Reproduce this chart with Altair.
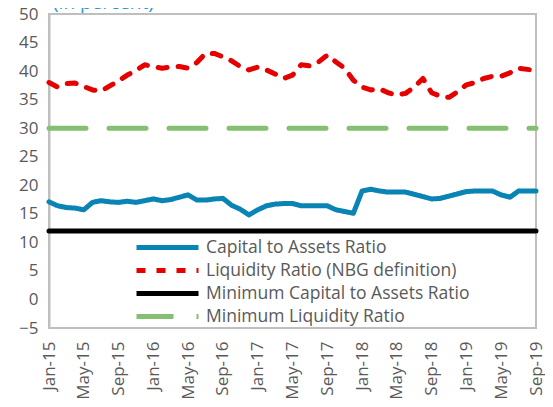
import altair as alt
import pandas as pd

mon = ["Jan", "Feb", "Mar", "Apr", "May", "Jun", "Jul", "Aug", "Sep", "Oct", "Nov", "Dec"]
months = [f"{m}-{y}" for y in range(15, 20) for m in mon][:57]

capital_to_assets = [17.1, 16.4, 16.1, 16.0, 15.7, 17.0, 17.3, 17.1, 17.0, 17.2, 17.0, 17.3,
                     17.6, 17.3, 17.5, 17.9, 18.3, 17.4, 17.4, 17.6, 17.7, 16.5, 15.8, 14.8,
                     15.7, 16.4, 16.7, 16.8, 16.8, 16.4, 16.4, 16.4, 16.4, 15.7, 15.4, 15.1,
                     19.0, 19.3, 19.0, 18.8, 18.8, 18.8, 18.4, 18.0, 17.6, 17.7, 18.1, 18.5,
                     18.9, 19.0, 19.0, 19.0, 18.3, 17.9, 19.0, 19.0, 19.0]
liquidity = [38.0, 37.2, 37.8, 37.9, 37.3, 36.7, 36.5, 37.4, 38.3, 39.3, 40.1, 41.1,
             40.8, 40.5, 40.7, 40.8, 40.5, 41.5, 43.1, 43.1, 42.5, 41.8, 40.8, 40.2,
             40.7, 40.2, 39.5, 38.7, 39.3, 41.1, 40.9, 41.6, 42.8, 41.6, 40.5, 38.4,
             37.2, 36.7, 36.9, 36.2, 35.8, 36.1, 37.2, 38.7, 36.2, 35.6, 35.4, 36.4,
             37.6, 38.0, 38.7, 39.1, 39.1, 39.7, 40.5, 40.3, 40.1]
min_capital = 12.0
min_liquidity = 30.0

series = ["Capital to Assets Ratio", "Liquidity Ratio (NBG definition)",
          "Minimum Capital to Assets Ratio", "Minimum Liquidity Ratio"]
colors = ["#0A84B4", "#E60000", "#000000", "#85BF72"]
dashes = [[1, 0], [9, 11], [1, 0], [37, 23]]
title_text = "(in percent)"

rows = []
for i, m in enumerate(months):
    rows.append({"month": m, "series": series[0], "value": capital_to_assets[i]})
    rows.append({"month": m, "series": series[1], "value": liquidity[i]})
    rows.append({"month": m, "series": series[2], "value": min_capital})
    rows.append({"month": m, "series": series[3], "value": min_liquidity})
df = pd.DataFrame(rows)

gray = "#595959"
font = "Open Sans"

label_expr = "indexof(['Jan','May','Sep'], slice(datum.label, 0, 3)) >= 0 ? datum.label : ''"

lines = alt.Chart(df).mark_line(strokeWidth=5, strokeCap="round", strokeJoin="round").encode(
    x=alt.X("month:N", sort=months, scale=alt.Scale(type="point", padding=0),
            axis=alt.Axis(title=None, labelAngle=270, labelAlign="right", labelBaseline="middle",
                          labelExpr=label_expr, labelOverlap=False, ticks=False, domain=False,
                          labelPadding=13, labelFontSize=17, labelColor=gray, labelFont=font)),
    y=alt.Y("value:Q", scale=alt.Scale(domain=[-5, 50], nice=False, zero=False),
            axis=alt.Axis(title=None, values=list(range(-5, 51, 5)), grid=False, ticks=False,
                          domainColor="#BFBFBF", domainWidth=2, labelPadding=11,
                          labelFontSize=17, labelColor=gray, labelFont=font)),
    color=alt.Color("series:N", sort=series,
                    scale=alt.Scale(domain=series, range=colors),
                    legend=alt.Legend(title=None, orient="none", legendX=85, legendY=222,
                                      symbolType="stroke", symbolSize=3844, symbolStrokeWidth=5,
                                      clipHeight=23, rowPadding=0, labelOffset=5, padding=0,
                                      labelLimit=400, labelFontSize=17.5, labelColor=gray,
                                      labelFont=font)),
    strokeDash=alt.StrokeDash("series:N", sort=series,
                              scale=alt.Scale(domain=series, range=dashes), legend=None),
)

title = alt.Chart(pd.DataFrame({"t": [title_text]})).mark_text(
    align="left", baseline="alphabetic", fontSize=19, color="#1E9AD6", font=font
).encode(text="t:N", x=alt.value(4), y=alt.value(-5))

chart = alt.layer(lines, title).properties(
    width=487, height=314, autosize=alt.AutoSizeParams(type="none"),
    padding={"left": 41, "top": 6, "right": 9, "bottom": 71},
).configure_view(stroke="#BFBFBF", strokeWidth=2)

chart.save("out.html", embed_options={"renderer": "svg", "actions": False})
